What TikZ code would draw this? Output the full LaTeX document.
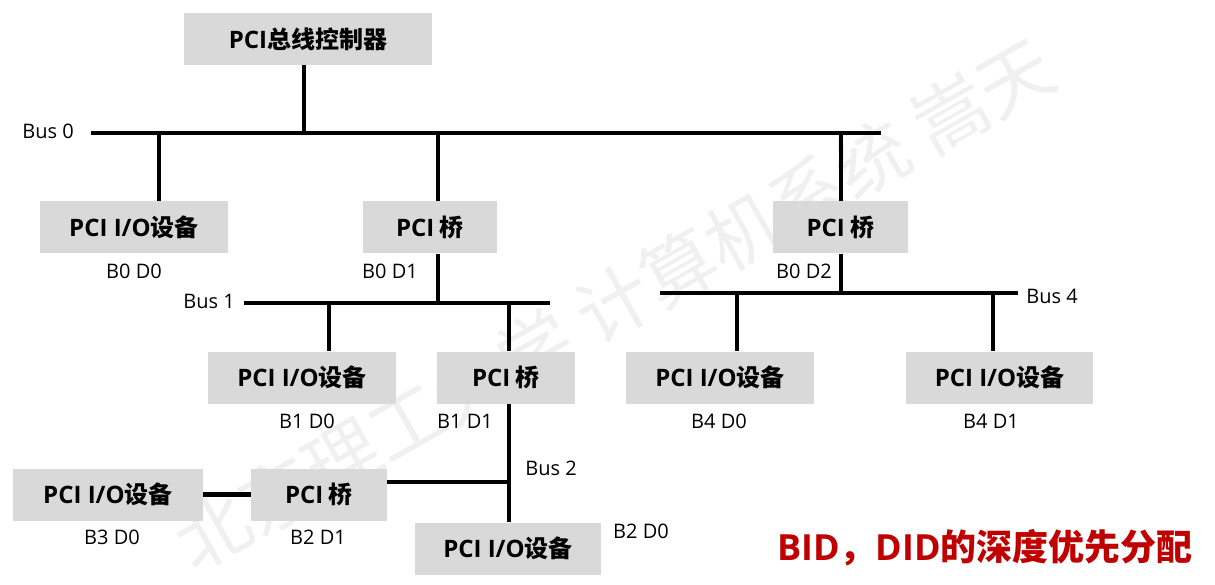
\documentclass[tikz,border=0pt]{standalone}
\usepackage{fontspec}
\setmainfont{Noto Sans CJK SC}
\newfontfamily\lat{Open Sans}
\definecolor{boxgray}{RGB}{217,217,217}
\definecolor{titlered}{RGB}{192,0,0}
\definecolor{wmgray}{RGB}{240,240,240}
\begin{document}
\begin{tikzpicture}[x=1pt,y=-1pt,
  box/.style={fill=boxgray, inner sep=0pt, minimum height=52pt, font=\fontsize{24}{27}\selectfont\bfseries},
  lbl/.style={font=\lat\fontsize{20}{22}\selectfont, inner sep=0pt},
  wire/.style={line width=4.5pt},
  wmark/.style={text=wmgray, font=\fontsize{74}{76}\selectfont, rotate=29.5, inner sep=0pt}
]
\useasboundingbox (0,0) rectangle (1215,585);
% watermark
\node[wmark] (wm) at (614,304) {北京理工大学\ 计算机系统\ 嵩天};

% boxes
\node[box, minimum width=248pt] (ctrl) at (308,39) {{\lat\bfseries PCI}总线控制器};
\node[box, minimum width=188pt] (io00) at (134,227.5) {{\lat\bfseries PCI I/O}设备};
\node[box, minimum width=134pt] (br01) at (430,227.5) {{\lat\bfseries PCI} 桥};
\node[box, minimum width=135pt] (br02) at (840.5,227.5) {{\lat\bfseries PCI} 桥};
\node[box, minimum width=188pt] (io10) at (302,377.5) {{\lat\bfseries PCI I/O}设备};
\node[box, minimum width=138pt] (br11) at (506,377.5) {{\lat\bfseries PCI} 桥};
\node[box, minimum width=188pt] (io40) at (720,377.5) {{\lat\bfseries PCI I/O}设备};
\node[box, minimum width=187pt] (io41) at (999.5,377.5) {{\lat\bfseries PCI I/O}设备};
\node[box, minimum width=136pt] (br21) at (319,494.5) {{\lat\bfseries PCI} 桥};
\node[box, minimum width=190pt] (io30) at (108,494.5) {{\lat\bfseries PCI I/O}设备};
\node[box, minimum width=186pt] (io20) at (508,548.5) {{\lat\bfseries PCI I/O}设备};

% bus end points
\coordinate (b0l) at (91,133);  \coordinate (b0r) at (881,133);
\coordinate (b1l) at (244,303); \coordinate (b1r) at (550,303);
\coordinate (b4l) at (660,293); \coordinate (b4r) at (1018,293);
\coordinate (b2) at (509,482);

% buses
\draw[wire] (b0l) -- (b0r);
\draw[wire] (b1l) -- (b1r);
\draw[wire] (b4l) -- (b4r);

% connectors
\draw[wire] (ctrl.south -| 304,0) -- (304,133);
\draw[wire] (159,133) -- (io00.north -| 159,0);
\draw[wire] (438,133) -- (br01.north -| 438,0);
\draw[wire] (br01.south -| 438,0) -- (438,303);
\draw[wire] (841,133) -- (br02.north -| 841,0);
\draw[wire] (br02.south -| 841,0) -- (841,293);
\draw[wire] (329,303) -- (io10.north -| 329,0);
\draw[wire] (509,303) -- (br11.north -| 509,0);
\draw[wire] (br11.south -| 509,0) -- (io20.north -| 509,0);
\draw[wire] (br21.east |- b2) -- (b2);
\draw[wire] (io30.east) -- (br21.west);
\draw[wire] (737,293) -- (io40.north -| 737,0);
\draw[wire] (993,293) -- (io41.north -| 993,0);

% labels
\node[lbl] (lbus0) at (48,131) {Bus 0};
\node[lbl] (l00) at (134,271) {B0 D0};
\node[lbl] (l01) at (390,271) {B0 D1};
\node[lbl] (l02) at (804,271) {B0 D2};
\node[lbl] (lbus1) at (209,301) {Bus 1};
\node[lbl] (l10) at (307,421) {B1 D0};
\node[lbl] (l11) at (465,421) {B1 D1};
\node[lbl] (lbus4) at (1052,296) {Bus 4};
\node[lbl] (l40) at (719,421) {B4 D0};
\node[lbl] (l41) at (991,421) {B4 D1};
\node[lbl] (lbus2) at (551,468) {Bus 2};
\node[lbl] (l21) at (318,537) {B2 D1};
\node[lbl] (l30) at (112,537) {B3 D0};
\node[lbl] (l20) at (641,531) {B2 D0};

\node[text=titlered, font=\fontsize{36}{38}\selectfont\bfseries, inner sep=0pt] (title) at (985,548) {{\lat\bfseries BID}，{\lat\bfseries DID}的深度优先分配};
\end{tikzpicture}
\end{document}
